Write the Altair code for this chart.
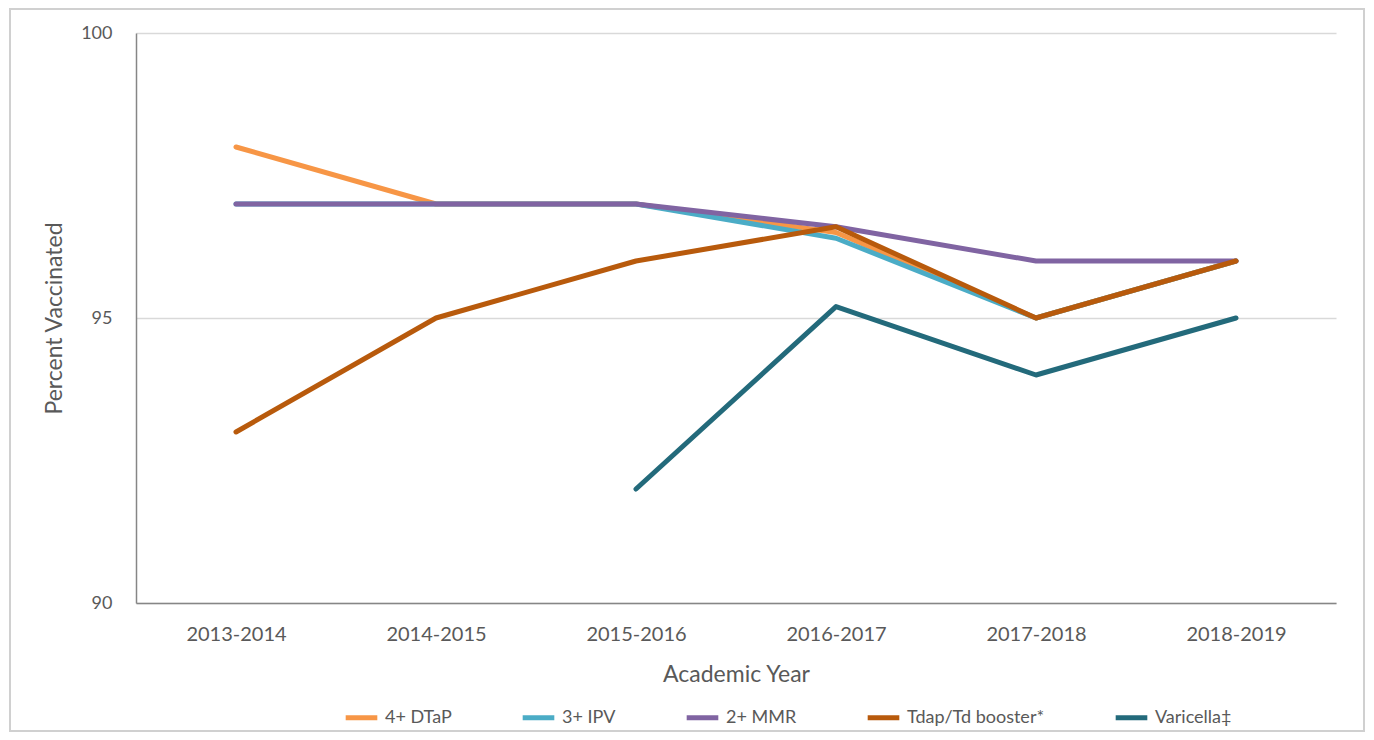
import altair as alt
import pandas as pd

years = ["2013-2014", "2014-2015", "2015-2016", "2016-2017", "2017-2018", "2018-2019"]
series = ["4+ DTaP", "3+ IPV", "2+ MMR", "Tdap/Td booster*", "Varicella\u2021"]
colors = ["#F79646", "#4BACC6", "#8064A2", "#B85A0C", "#236A7B"]

dtap = [98.0, 97.0, 97.0, 96.5, 95.0, 96.0]
ipv = [97.0, 97.0, 97.0, 96.4, 95.0, 96.0]
mmr = [97.0, 97.0, 97.0, 96.6, 96.0, 96.0]
tdap = [93.0, 95.0, 96.0, 96.6, 95.0, 96.0]
varicella = [None, None, 92.0, 95.2, 94.0, 95.0]

values = [dtap, ipv, mmr, tdap, varicella]
rows = []
for s, vals in zip(series, values):
    for y, v in zip(years, vals):
        if v is not None:
            rows.append({"year": y, "series": s, "value": v})
df = pd.DataFrame(rows)

FONT = "Lato"
TXT = "#595959"
W, H = 1200, 570

color = alt.Color(
    "series:N",
    scale=alt.Scale(domain=series, range=colors),
    legend=alt.Legend(
        title=None,
        orient="none",
        direction="horizontal",
        legendX=207,
        legendY=666,
        symbolType="stroke",
        symbolStrokeWidth=5,
        symbolSize=1000,
        labelFontSize=18,
        labelFont=FONT,
        labelColor=TXT,
        columnPadding=60,
        labelOffset=5,
    ),
)

x = alt.X(
    "year:N",
    sort=years,
    scale=alt.Scale(type="point", padding=0.5),
    axis=alt.Axis(
        title="Academic Year",
        labelAngle=0,
        ticks=False,
        labelFontSize=20,
        labelPadding=21,
        titleFontSize=23,
        titlePadding=19,
        domainColor="#868686",
        domainWidth=1.5,
        grid=False,
    ),
)
y = alt.Y(
    "value:Q",
    scale=alt.Scale(domain=[90, 100], nice=False, zero=False),
    axis=alt.Axis(
        title="Percent Vaccinated",
        values=[90, 95, 100],
        ticks=False,
        labelFontSize=18,
        labelPadding=24,
        titleFontSize=23,
        titlePadding=14,
        domainColor="#868686",
        domainWidth=1.5,
        gridColor="#D9D9D9",
        gridWidth=1.5,
    ),
)

layers = []
for s in series:
    layers.append(
        alt.Chart(df)
        .transform_filter(alt.datum.series == s)
        .mark_line(strokeWidth=5, strokeCap="round", strokeJoin="round")
        .encode(x=x, y=y, color=color)
    )

border = alt.Chart(pd.DataFrame({"a": [0]})).mark_rect(
    fill="white", fillOpacity=0, stroke="#D0D0D0", strokeWidth=2, clip=False
).encode(
    x=alt.value(-126), x2=alt.value(W + 28), y=alt.value(-24), y2=alt.value(H + 128)
)

chart = (
    alt.layer(border, *layers)
    .properties(
        width=W,
        height=H,
        background="white",
        autosize=alt.AutoSizeParams(type="none"),
        padding={"left": 128, "top": 25, "right": 30, "bottom": 132},
    )
    .configure_view(stroke=None)
    .configure_axis(labelFont=FONT, titleFont=FONT, labelColor=TXT, titleColor=TXT, titleFontWeight="normal")
)

chart.save("out.html", embed_options={"renderer": "svg", "actions": False})
